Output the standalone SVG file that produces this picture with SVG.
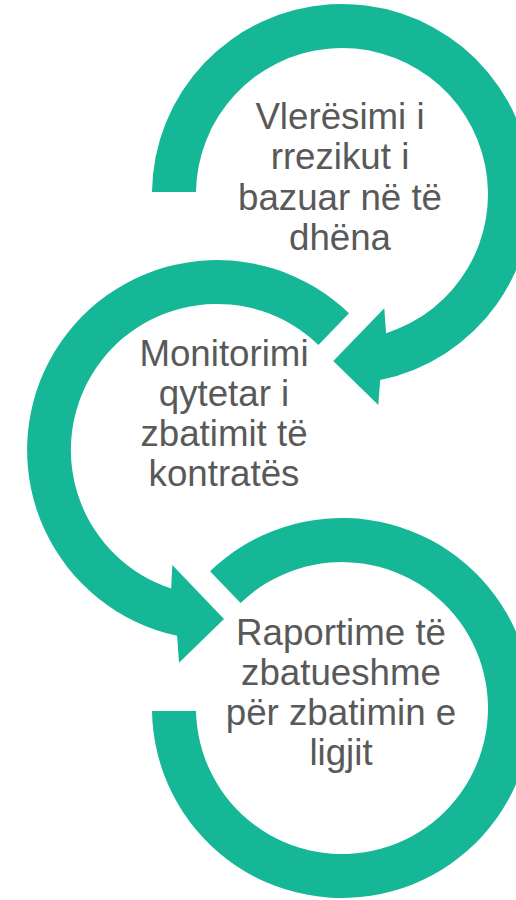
<svg xmlns="http://www.w3.org/2000/svg" width="516" height="900" viewBox="0 0 516 900">
<style>
.arr{fill:#16B797;}
.t{font-family:"Liberation Sans",Arial,sans-serif;font-size:36.7px;fill:#595959;text-anchor:middle;}
</style>
<rect width="516" height="900" fill="#ffffff"/>
<g id="connectors">
<path id="arrow1" class="arr" d="M152,192 A190,190 0 1 1 380.2,380.1 L378.3,405 L333.3,361 L384.3,308.3 L386.1,333.2 A146,146 0 1 0 196,192 Z"/>
<path id="arrow2" class="arr" d="M349,313.3 A190,190 0 1 0 177.1,635.8 L179,662.7 L224,619 L172.3,565 L171.2,588.6 A146,146 0 1 1 318.4,345 Z"/>
<path id="arrow3" class="arr" d="M210,571.3 A190,190 0 1 1 152,711 L196,711 A146,146 0 1 0 240.6,603 Z"/>
</g>
<g id="node1">
<text class="t" x="340" y="129">Vlerësimi i</text>
<text class="t" x="340" y="169">rrezikut i</text>
<text class="t" x="340" y="210">bazuar në të</text>
<text class="t" x="340" y="250">dhëna</text>
</g>
<g id="node2">
<text class="t" x="224" y="366">Monitorimi</text>
<text class="t" x="224" y="406">qytetar i</text>
<text class="t" x="224" y="446">zbatimit të</text>
<text class="t" x="224" y="486">kontratës</text>
</g>
<g id="node3">
<text class="t" x="341" y="645">Raportime të</text>
<text class="t" x="341" y="685">zbatueshme</text>
<text class="t" x="341" y="725">për zbatimin e</text>
<text class="t" x="341" y="765">ligjit</text>
</g>
</svg>
